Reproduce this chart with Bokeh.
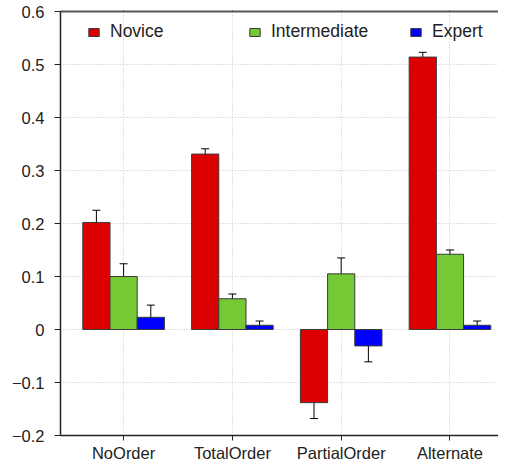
from bokeh.plotting import figure
from bokeh.models import (Range1d, FixedTicker, Whisker, ColumnDataSource, Legend,
                          LegendItem, LinearAxis, TeeHead)
from bokeh.transform import dodge
from bokeh.embed import file_html
from bokeh.resources import INLINE

categories = ["NoOrder", "TotalOrder", "PartialOrder", "Alternate"]
levels = ["Novice", "Intermediate", "Expert"]
novice = [0.202, 0.331, -0.138, 0.514]
novice_err = [0.023, 0.010, 0.030, 0.009]
intermediate = [0.100, 0.058, 0.105, 0.142]
intermediate_err = [0.024, 0.009, 0.030, 0.008]
expert = [0.023, 0.008, -0.031, 0.008]
expert_err = [0.023, 0.008, 0.030, 0.008]
colors = ["#dd0000", "#74c935", "#0000ff"]
y_ticks = [-0.2, -0.1, 0.0, 0.1, 0.2, 0.3, 0.4, 0.5, 0.6]
y_tick_labels = ["\u22120.2", "\u22120.1", "0", "0.1", "0.2", "0.3", "0.4", "0.5", "0.6"]

FONT = "Liberation Sans"
xs = list(range(len(categories)))

p = figure(width=498, height=464, x_range=Range1d(-0.58, 3.446),
           y_range=Range1d(y_ticks[0], y_ticks[-1]),
           output_backend="svg", toolbar_location=None,
           min_border_left=60, min_border_right=0, min_border_top=11, min_border_bottom=27)
p.outline_line_color = None
p.background_fill_color = "white"
p.border_fill_color = "white"

series = [novice, intermediate, expert]
errors = [novice_err, intermediate_err, expert_err]
offsets = [-0.25, 0.0, 0.25]
items = []
for name, vals, errs, color, off in zip(levels, series, errors, colors, offsets):
    src = ColumnDataSource(dict(
        x=xs, top=vals,
        upper=[v + e for v, e in zip(vals, errs)],
        lower=[v - e for v, e in zip(vals, errs)],
    ))
    r = p.vbar(x=dodge("x", off), top="top", bottom=0, width=0.25, source=src,
               fill_color=color, line_color="#3a3a3a", line_width=1)
    w = Whisker(base=dodge("x", off), upper="upper", lower="lower", source=src,
                line_color="black", line_width=1,
                upper_head=TeeHead(size=8, line_color="black", line_width=1),
                lower_head=TeeHead(size=8, line_color="black", line_width=1))
    p.add_layout(w)
    items.append(LegendItem(label=name, renderers=[r]))

p.xaxis.ticker = FixedTicker(ticks=xs)
p.xaxis.major_label_overrides = {i: c for i, c in zip(xs, categories)}
p.yaxis.ticker = FixedTicker(ticks=y_ticks)
p.yaxis.major_label_overrides = {t: l for t, l in zip(y_ticks, y_tick_labels)}
for ax in (p.xaxis[0], p.yaxis[0]):
    ax.axis_line_color = "#222222"
    ax.axis_line_width = 1.5
    ax.major_tick_line_color = "#222222"
    ax.major_tick_line_width = 1
    ax.major_tick_in = 0
    ax.major_tick_out = 6
    ax.minor_tick_line_color = None
    ax.major_label_text_font = FONT
    ax.major_label_text_font_size = "16.5px"
    ax.major_label_text_color = "#222222"
p.yaxis.major_label_standoff = 10
p.xaxis.major_tick_out = 5
p.xaxis.major_label_standoff = 3

# top border line of the frame (axis given a small non-zero size so it is drawn)
top_axis = LinearAxis(ticker=FixedTicker(ticks=xs), axis_line_color="#555555",
                      axis_line_width=2, major_tick_line_color="#555555",
                      major_tick_line_width=1, major_tick_in=0, major_tick_out=1,
                      minor_tick_line_color=None, major_label_text_font_size="1px",
                      major_label_text_alpha=0, major_label_standoff=2)
p.add_layout(top_axis, "above")

for g in (p.xgrid[0], p.ygrid[0]):
    g.grid_line_color = "#c4c4c4"
    g.grid_line_dash = "1 2"
    g.grid_line_width = 1

legend = Legend(items=items, orientation="horizontal", location=(27, 393),
                padding=0, spacing=0, margin=0, glyph_width=13, glyph_height=10,
                label_standoff=10, label_width=138,
                label_text_font=FONT, label_text_font_size="17.5px",
                label_text_color="#222222",
                border_line_color=None, background_fill_alpha=0)
p.add_layout(legend)

open("out.html", "w").write(file_html(p, INLINE))
